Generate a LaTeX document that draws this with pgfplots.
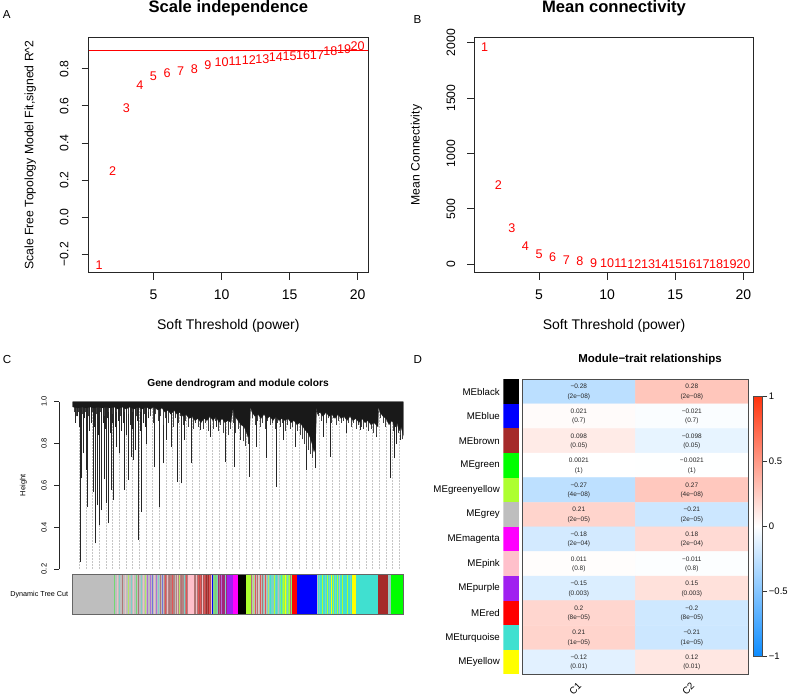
\documentclass[border=0pt]{standalone}
\usepackage{fontspec}
\setmainfont{Liberation Sans}
\usepackage{pgfplots}
\usepackage{pgfplotstable}
\pgfplotsset{compat=1.18}
\pgfplotsset{every axis title shift=0pt}

\newcommand{\fs}[1]{\fontsize{#1}{#1}\selectfont}
\definecolor{rgrey}{HTML}{BEBEBE}
\definecolor{rblue}{HTML}{0000FF}
\definecolor{rbrown}{HTML}{A52A2A}
\definecolor{rgreen}{HTML}{00FF00}
\definecolor{rgy}{HTML}{ADFF2F}
\definecolor{rmag}{HTML}{FF00FF}
\definecolor{rpink}{HTML}{FFC0CB}
\definecolor{rpurple}{HTML}{A020F0}
\definecolor{rred}{HTML}{FF0000}
\definecolor{rturq}{HTML}{40E0D0}
\definecolor{ryellow}{HTML}{FFFF00}

\newcommand{\seg}[3]{\addplot[fill=#3,draw=none] coordinates {(#1,1) (#2,1)} \closedcycle;}
\newcommand{\rowc}[2]{\addplot[fill=#2,draw=none] coordinates {(0,#1-0.5) (1,#1-0.5) (1,#1+0.5) (0,#1+0.5)} --cycle;}

\pgfplotstableread{
x y lab
1 -0.259 1
2 0.247 2
3 0.59 3
4 0.714 4
5 0.758 5
6 0.778 6
7 0.787 7
8 0.800 8
9 0.820 9
10 0.836 10
11 0.840 11
12 0.845 12
13 0.854 13
14 0.863 14
15 0.868 15
16 0.875 16
17 0.875 17
18 0.893 18
19 0.908 19
20 0.920 20
}\scaleind

\pgfplotstableread{
x y lab
1 1964 1
2 713 2
3 325 3
4 165 4
5 93 5
6 60 6
7 39 7
8 24 8
9 12 9
10 8 10
11 6 11
12 5 12
13 4 13
14 3 14
15 2.5 15
16 2 16
17 1.7 17
18 1.4 18
19 1.2 19
20 1 20
}\meancon

% long branches of the dendrogram (leaf position, lower end height)
\pgfplotstableread{
x h
80 0.235
81.7 0.634
83.3 0.754
86 0.674
87.7 0.498
93.3 0.57
95.7 0.323
97.3 0.506
99.3 0.41
101.7 0.482
104 0.63
106 0.514
108.3 0.419
111 0.578
113.3 0.53
116 0.785
119.3 0.754
124.3 0.578
128.3 0.626
131 0.737
133.3 0.722
135 0.77
138.3 0.339
141.7 0.474
146.7 0.8
154 0.69
159 0.498
163.3 0.706
166.7 0.817
171.7 0.785
177.3 0.618
181.7 0.61
184 0.817
191.7 0.706
200 0.865
210 0.833
216.7 0.88
225 0.713
234 0.69
240 0.817
249.3 0.642
256.7 0.785
266.7 0.73
276.7 0.594
283.3 0.817
295 0.785
306.7 0.674
315 0.682
323.3 0.833
330 0.737
346.7 0.849
360 0.865
376.7 0.833
390 0.634
394 0.73
396.7 0.8
400 0.817
75 0.9
77 0.93
79 0.88
84 0.92
89 0.86
91 0.9
94 0.88
98 0.84
103 0.9
105 0.87
107 0.92
110 0.85
112 0.9
115 0.88
118 0.91
121 0.86
123 0.9
126 0.84
130 0.89
132 0.87
137 0.91
140 0.86
143 0.9
145 0.88
148 0.92
}\dendro

% short branches (hair) of the dendrogram
\pgfplotstableread{
x h
74 .95
76.5 .93
78.5 .95
82 .94
85 .95
88 .93
92 .95
96 .94
100 .95
104 .93
108 .95
112 .94
116 .95
120 .93
124 .95
128 .94
132 .95
136 .93
140 .95
144 .94
148 .95
150.5 .93
153 .9
155.5 .94
158 .91
160.5 .93
163 .89
165.5 .92
168 .9
170.5 .94
173 .88
175.5 .92
178 .9
180.5 .93
183 .89
185.5 .91
188 .88
190.5 .92
193 .87
195.5 .9
198 .88
200.5 .91
203 .87
205.5 .9
208 .86
210.5 .89
213 .87
215.5 .91
218 .86
220.5 .89
223 .85
225.5 .88
228 .84
230.5 .87
233 .9
235.5 .85
238 .87
240.5 .83
243 .81
245.5 .79
248 .8
252.5 .92
255 .89
257.5 .91
260 .88
262.5 .9
265 .87
267.5 .91
270 .89
272.5 .9
275 .87
277.5 .9
280 .88
282.5 .9
285 .86
287.5 .89
290 .87
292.5 .88
295 .85
297.5 .86
300 .84
302.5 .82
304 .8
306 .79
308 .77
310 .75
312 .73
318.5 .93
321 .91
323.5 .93
326 .9
328.5 .92
331 .9
333.5 .92
336 .89
338.5 .91
341 .9
343.5 .91
346 .89
348.5 .9
351 .88
353.5 .9
356 .87
358.5 .89
361 .88
363.5 .87
366 .88
368.5 .86
371 .87
373.5 .85
376 .84
380.5 .92
383 .9
385.5 .88
388 .9
390.5 .87
393 .86
395.5 .88
398 .85
400.5 .84
402.5 .82
}\hair

\pgfplotstableread{
x y v r p
1 12 -0.28 −0.28 (2e−08)
2 12 0.28 0.28 (2e−08)
1 11 0.021 0.021 (0.7)
2 11 -0.021 −0.021 (0.7)
1 10 0.098 0.098 (0.05)
2 10 -0.098 −0.098 (0.05)
1 9 0.0021 0.0021 (1)
2 9 -0.0021 −0.0021 (1)
1 8 -0.27 −0.27 (4e−08)
2 8 0.27 0.27 (4e−08)
1 7 0.21 0.21 (2e−05)
2 7 -0.21 −0.21 (2e−05)
1 6 -0.18 −0.18 (2e−04)
2 6 0.18 0.18 (2e−04)
1 5 0.011 0.011 (0.8)
2 5 -0.011 −0.011 (0.8)
1 4 -0.15 −0.15 (0.003)
2 4 0.15 0.15 (0.003)
1 3 0.2 0.2 (8e−05)
2 3 -0.2 −0.2 (8e−05)
1 2 0.21 0.21 (1e−05)
2 2 -0.21 −0.21 (1e−05)
1 1 -0.12 −0.12 (0.01)
2 1 0.12 0.12 (0.01)
}\hm

\begin{document}
\begin{tikzpicture}
\path[use as bounding box] (0pt,0pt) rectangle (790pt,696pt);

\node[anchor=base west, inner sep=0pt, font=\fs{11.6}] at (2.7pt,677.7pt) {A};
\node[anchor=base west, inner sep=0pt, font=\fs{11.6}] at (413.3pt,672.7pt) {B};
\node[anchor=base west, inner sep=0pt, font=\fs{11.6}] at (2.7pt,332pt) {C};
\node[anchor=base west, inner sep=0pt, font=\fs{11.6}] at (413.3pt,332pt) {D};

% ---------------- Panel A
\begin{axis}[
  at={(88.7pt,423.3pt)}, anchor=south west, scale only axis,
  width=279.3pt, height=235.4pt,
  xmin=0.24, xmax=20.76, ymin=-0.30, ymax=0.97,
  clip=false,
  xtick={5,10,15,20}, xticklabels={5,10,15,20},
  ytick={-0.2,0,0.2,0.4,0.6,0.8},
  yticklabels={−0.2,0.0,0.2,0.4,0.6,0.8},
  xtick pos=bottom, ytick pos=left, tick align=outside, major tick length=7pt,
  axis line style={line width=0.8pt, black!85}, tick style={line width=0.8pt, black!85},
  xticklabel style={font=\fs{14}, anchor=base, inner sep=0pt, yshift=-20.3pt},
  yticklabel style={font=\fs{12.2}, xshift=-13.4pt, rotate=90, anchor=base, inner sep=0pt},
  title={Scale independence},
  title style={font=\fs{16.6}\bfseries, at={(axis description cs:0.5,1.1054)}, anchor=base, inner sep=0pt},
  xlabel={Soft Threshold (power)},
  xlabel style={font=\fs{14}, at={(axis description cs:0.5,-0.2434)}, anchor=base, inner sep=0pt},
  ylabel={Scale Free Topology Model Fit,signed R\textasciicircum 2},
  ylabel style={font=\fs{12.2}, at={(axis description cs:-0.198,0.5)}, anchor=base, inner sep=0pt},
]
\addplot[red, line width=0.8pt] coordinates {(0.24,0.9) (20.76,0.9)};
\addplot[only marks, mark=none, nodes near coords, point meta=explicit symbolic,
  nodes near coords align=center,
  every node near coord/.append style={anchor=center, text=red, font=\fs{12.6}, inner sep=0pt}]
  table[x=x, y=y, meta=lab] {\scaleind};
\end{axis}

% ---------------- Panel B
\begin{axis}[
  at={(474.3pt,423.3pt)}, anchor=south west, scale only axis,
  width=279.4pt, height=235.4pt,
  xmin=0.24, xmax=20.76, ymin=-76, ymax=2049,
  clip=false,
  xtick={5,10,15,20}, xticklabels={5,10,15,20},
  ytick={0,500,1000,1500,2000},
  yticklabels={0,500,1000,1500,2000},
  xtick pos=bottom, ytick pos=left, tick align=outside, major tick length=7pt,
  axis line style={line width=0.8pt, black!85}, tick style={line width=0.8pt, black!85},
  xticklabel style={font=\fs{14}, anchor=base, inner sep=0pt, yshift=-20.3pt},
  yticklabel style={font=\fs{12.2}, xshift=-12.3pt, rotate=90, anchor=base, inner sep=0pt},
  title={Mean connectivity},
  title style={font=\fs{16.6}\bfseries, at={(axis description cs:0.5,1.1054)}, anchor=base, inner sep=0pt},
  xlabel={Soft Threshold (power)},
  xlabel style={font=\fs{14}, at={(axis description cs:0.5,-0.2434)}, anchor=base, inner sep=0pt},
  ylabel={Mean Connectivity},
  ylabel style={font=\fs{12.2}, at={(axis description cs:-0.196,0.5)}, anchor=base, inner sep=0pt},
]
\addplot[only marks, mark=none, nodes near coords, point meta=explicit symbolic,
  nodes near coords align=center,
  every node near coord/.append style={anchor=center, text=red, font=\fs{12.6}, inner sep=0pt}]
  table[x=x, y=y, meta=lab] {\meancon};
\end{axis}

% ---------------- Panel C: dendrogram
\begin{axis}[
  at={(59.3pt,127pt)}, anchor=south west, scale only axis,
  width=344pt, height=167.3pt,
  xmin=59.3, xmax=403.3, ymin=0.2, ymax=1.0,
  axis y line*=left, axis x line*=bottom,
  x axis line style={draw=none}, xtick=\empty,
  ytick={0.2,0.4,0.6,0.8,1.0}, yticklabels={0.2,0.4,0.6,0.8,1.0},
  tick align=outside, major tick length=5pt,
  y axis line style={line width=0.7pt, black!85}, tick style={line width=0.7pt, black!85},
  yticklabel style={font=\fs{7.5}, xshift=-7.6pt, rotate=90, anchor=base, inner sep=0pt},
  title={Gene dendrogram and module colors},
  title style={font=\fs{10.2}\bfseries, at={(axis description cs:0.5195,1.0897)}, anchor=base, inner sep=0pt},
  ylabel={Height},
  ylabel style={font=\fs{7.5}, at={(axis description cs:-0.0983,0.5)}, anchor=base, inner sep=0pt},
]
\addplot[ycomb, gray!45, densely dotted, line width=0.5pt] coordinates {
(79.3,0.97) (86.0,0.97) (92.6,0.97) (99.3,0.97) (106.0,0.97) (112.6,0.97) (119.3,0.97)
(126.0,0.97) (132.6,0.97) (139.3,0.97) (146.0,0.97) (152.6,0.97) (159.3,0.97) (166.0,0.97)
(172.6,0.97) (179.3,0.97) (186.0,0.97) (192.6,0.97) (199.3,0.97) (206.0,0.97) (212.6,0.97)
(219.3,0.97) (226.0,0.97) (232.6,0.97) (239.3,0.97) (246.0,0.97) (252.6,0.97) (259.3,0.97)
(266.0,0.97) (272.6,0.97) (279.3,0.97) (286.0,0.97) (292.6,0.97) (299.3,0.97) (306.0,0.97)
(312.6,0.97) (319.3,0.97) (326.0,0.97) (332.6,0.97) (339.3,0.97) (346.0,0.97) (352.6,0.97)
(359.3,0.97) (366.0,0.97) (372.6,0.97) (379.3,0.97) (386.0,0.97) (392.6,0.97) (399.3,0.97)};
\addplot[only marks, mark=none, mark options={draw=none, fill=none}, mark size=0pt,
  error bars/.cd, y dir=plus, y explicit, error mark=none,
  error bar style={line width=0.55pt, black!85}]
  table[x=x, y=h, y error expr=0.975-\thisrow{h}] {\dendro};
\addplot[only marks, mark=none, mark options={draw=none, fill=none}, mark size=0pt,
  error bars/.cd, y dir=plus, y explicit, error mark=none,
  error bar style={line width=0.45pt, black!75}]
  table[x=x, y=h, y error expr=0.975-\thisrow{h}] {\hair};
\addplot[fill=black!90, draw=black!90, line width=0.3pt] coordinates {
(72.7,1.0) (403.3,1.0)
(403.3,0.84) (401,0.88) (399,0.86) (397,0.9) (395,0.88) (392,0.91) (389,0.89) (386,0.92)
(383,0.93) (380,0.95) (378.5,0.975) (378,0.88) (376,0.89) (374,0.9) (371,0.89) (368,0.91)
(365,0.9) (362,0.92) (359,0.9) (356,0.92) (353,0.91) (350,0.93) (347,0.91) (344,0.93)
(341,0.92) (338,0.94) (335,0.92) (332,0.94) (329,0.93) (326,0.95) (323,0.93) (320,0.95)
(317.5,0.94) (316.5,0.975) (315.5,0.78) (314,0.76) (312,0.8) (310,0.83) (308,0.85) (306,0.86)
(303,0.88) (300,0.9) (297,0.89) (294,0.91) (291,0.9) (288,0.92) (285,0.91) (282,0.92)
(279,0.91) (276,0.93) (273,0.91) (270,0.93) (267,0.92) (264,0.94) (261,0.92) (258,0.94)
(255,0.93) (252,0.95) (250.5,0.975) (249.5,0.84) (248,0.83) (246,0.86) (244,0.88) (241,0.89)
(238,0.91) (235,0.93) (233,0.97) (231,0.9) (228,0.91) (225,0.9) (222,0.92) (219,0.9)
(216,0.93) (213,0.91) (210,0.93) (207,0.91) (204,0.92) (201,0.9) (198,0.92) (195,0.91)
(192,0.93) (189,0.92) (186,0.94) (183,0.93) (180,0.95) (177,0.94) (174,0.96) (171,0.94)
(168,0.96) (165,0.95) (162,0.97) (158,0.96) (154,0.975) (150,0.965) (146,0.975) (142,0.965)
(138,0.975) (134,0.965) (130,0.975) (126,0.965) (122,0.975) (118,0.965) (114,0.975) (110,0.97)
(106,0.975) (102,0.97) (98,0.975) (94,0.97) (90,0.975) (86,0.97) (82,0.975) (78,0.97)
(72.7,0.975)} --cycle;
\end{axis}

% ---------------- Panel C: module colour bar
\begin{axis}[
  at={(72.7pt,81.7pt)}, anchor=south west, scale only axis,
  width=330.6pt, height=40pt,
  xmin=72.7, xmax=403.3, ymin=0, ymax=1,
  xtick=\empty, ytick=\empty,
  axis line style={line width=0.9pt, gray!80!black},
  axis on top,
]
\seg{72.7}{149.3}{rgrey}
\seg{149.3}{164}{rgrey}
\seg{164}{188.3}{rbrown!40!rgrey}
\seg{188.3}{194}{rpink}
\seg{194}{199.3}{rbrown!50!rgrey}
\seg{199.3}{211.7}{rbrown!70!rgrey}
\seg{211.7}{213.3}{rblue}
\seg{213.3}{218.3}{rgreen!30!rgrey}
\seg{218.3}{226.7}{rpurple!40!rbrown}
\seg{226.7}{233.3}{rpurple}
\seg{233.3}{238.3}{rmag}
\seg{238.3}{246}{black}
\seg{246}{250.7}{rgy}
\seg{250.7}{266.7}{rgrey}
\seg{266.7}{280}{rturq!55!rgrey}
\seg{280}{291.7}{rgy!60!rturq}
\seg{291.7}{297}{rred}
\seg{297}{316.7}{rblue}
\seg{316.7}{351.7}{rturq}
\seg{351.7}{356}{ryellow}
\seg{356}{378.3}{rturq}
\seg{378.3}{388.3}{rbrown}
\seg{388.3}{391}{rgrey!70!rturq}
\seg{391}{403.3}{rgreen}
\addplot[ycomb, line width=0.8pt, rgreen!40!rgrey] coordinates {(114.5,1) (136,1) (215,1)};
\addplot[ycomb, line width=0.8pt, rpink!70!rgrey] coordinates {(117,1) (125,1) (133,1) (143,1) (154,1) (167,1) (177,1) (196,1) (202.5,1) (211,1) (258.5,1)};
\addplot[ycomb, line width=0.8pt, rturq!50!rgrey] coordinates {(119,1) (131,1) (141,1) (147.5,1) (158,1) (184,1) (217,1) (225,1) (263.5,1) (287,1) (319.5,1) (325,1) (329,1) (335,1) (350,1)};
\addplot[ycomb, line width=0.8pt, rbrown!50!rgrey] coordinates {(122,1) (138.5,1) (160,1) (169,1) (181,1) (219,1) (251.5,1) (257,1) (262,1) (290.5,1)};
\addplot[ycomb, line width=0.8pt, rgy!60!rgrey] coordinates {(128,1) (145,1) (179,1) (253,1) (268,1)};
\addplot[ycomb, line width=0.8pt, rpurple!50!rgrey] coordinates {(150,1) (156,1) (147.5,1) (221,1)};
\addplot[ycomb, line width=0.8pt, rblue!40!rgrey] coordinates {(152,1) (162,1)};
\addplot[ycomb, line width=0.8pt, rred!55!rgrey] coordinates {(165,1) (172,1) (186,1) (198,1) (200,1) (204,1) (209.5,1) (255,1) (260,1) (265,1)};
\addplot[ycomb, line width=0.8pt, rbrown] coordinates {(206.5,1) (208,1)};
\addplot[ycomb, line width=0.8pt, rgy] coordinates {(274.5,1) (283,1) (289,1) (322,1) (327,1) (333,1) (337,1) (342,1) (347,1)};
\addplot[ycomb, line width=0.8pt, rturq] coordinates {(270,1) (276,1) (281,1)};
\addplot[ycomb, line width=0.8pt, ryellow] coordinates {(285,1) (331,1)};
\addplot[ycomb, line width=0.8pt, rgrey] coordinates {(175,1) (278,1) (317.5,1) (339.5,1)};
\end{axis}
\node[font=\fs{7.2}] at (39.3pt,101pt) {Dynamic Tree Cut};

% ---------------- Panel D: module colour column
\begin{axis}[
  at={(503.3pt,21.5pt)}, anchor=south west, scale only axis,
  width=16pt, height=295.2pt,
  xmin=0, xmax=1, ymin=0.5, ymax=12.5,
  xtick=\empty, ytick={1,...,12},
  yticklabels={MEyellow,MEturquoise,MEred,MEpurple,MEpink,MEmagenta,MEgrey,MEgreenyellow,MEgreen,MEbrown,MEblue,MEblack},
  axis line style={draw=none}, major tick length=0pt,
  yticklabel style={font=\fs{9.7}, anchor=east, inner sep=0pt, xshift=-3.3pt},
]
\rowc{12}{black}
\rowc{11}{rblue}
\rowc{10}{rbrown}
\rowc{9}{rgreen}
\rowc{8}{rgy}
\rowc{7}{rgrey}
\rowc{6}{rmag}
\rowc{5}{rpink}
\rowc{4}{rpurple}
\rowc{3}{rred}
\rowc{2}{rturq}
\rowc{1}{ryellow}
\end{axis}

% ---------------- Panel D: heatmap
\begin{axis}[
  at={(522.3pt,21.5pt)}, anchor=south west, scale only axis,
  width=226pt, height=295.2pt,
  xmin=0.5, xmax=2.5, ymin=0.5, ymax=12.5,
  ytick=\empty, xtick={1,2}, xticklabels={C1,C2},
  major tick length=0pt,
  xticklabel style={font=\fs{9.7}, xshift=1pt, yshift=-9.5pt, rotate=45, anchor=east, inner sep=0pt},
  axis line style={line width=0.9pt, black!70},
  axis on top,
  colormap={bwr}{rgb=(0.05,0.55,1) rgb=(1,1,1) rgb=(1,0.2,0.05)},
  point meta min=-1, point meta max=1,
  title={Module−trait relationships},
  title style={font=\fs{11.5}\bfseries, at={(axis description cs:0.565,1.0562)}, anchor=base, inner sep=0pt},
  colorbar,
  colorbar style={
    at={(parent axis.south east)}, anchor=south west, xshift=-3pt, yshift=18.5pt,
    scale only axis, width=8.4pt, height=260pt,
    ymin=-1, ymax=1,
    ytick={-1,-0.5,0,0.5,1}, yticklabels={−1,−0.5,0,0.5,1},
    yticklabel style={font=\fs{9.5}, anchor=west, inner sep=0pt, xshift=1.5pt},
    ytick pos=right, yticklabel pos=right,
    tick align=outside, major tick length=5pt,
    tick style={line width=0.8pt, black!80},
    axis line style={line width=0.8pt, black!70},
  },
]
\addplot[matrix plot*, mesh/cols=2, mesh/rows=12, point meta=explicit] table[x=x, y=y, meta=v] {\hm};
\addplot[only marks, mark=none, nodes near coords, point meta=explicit symbolic,
  nodes near coords align=center,
  every node near coord/.append style={anchor=center, font=\fs{6.5}, text=black!85, inner sep=0pt, yshift=5pt}]
  table[x=x, y=y, meta=r] {\hm};
\addplot[only marks, mark=none, nodes near coords, point meta=explicit symbolic,
  nodes near coords align=center,
  every node near coord/.append style={anchor=center, font=\fs{6.5}, text=black!85, inner sep=0pt, yshift=-5pt}]
  table[x=x, y=y, meta=p] {\hm};
\end{axis}
\end{tikzpicture}
\end{document}
